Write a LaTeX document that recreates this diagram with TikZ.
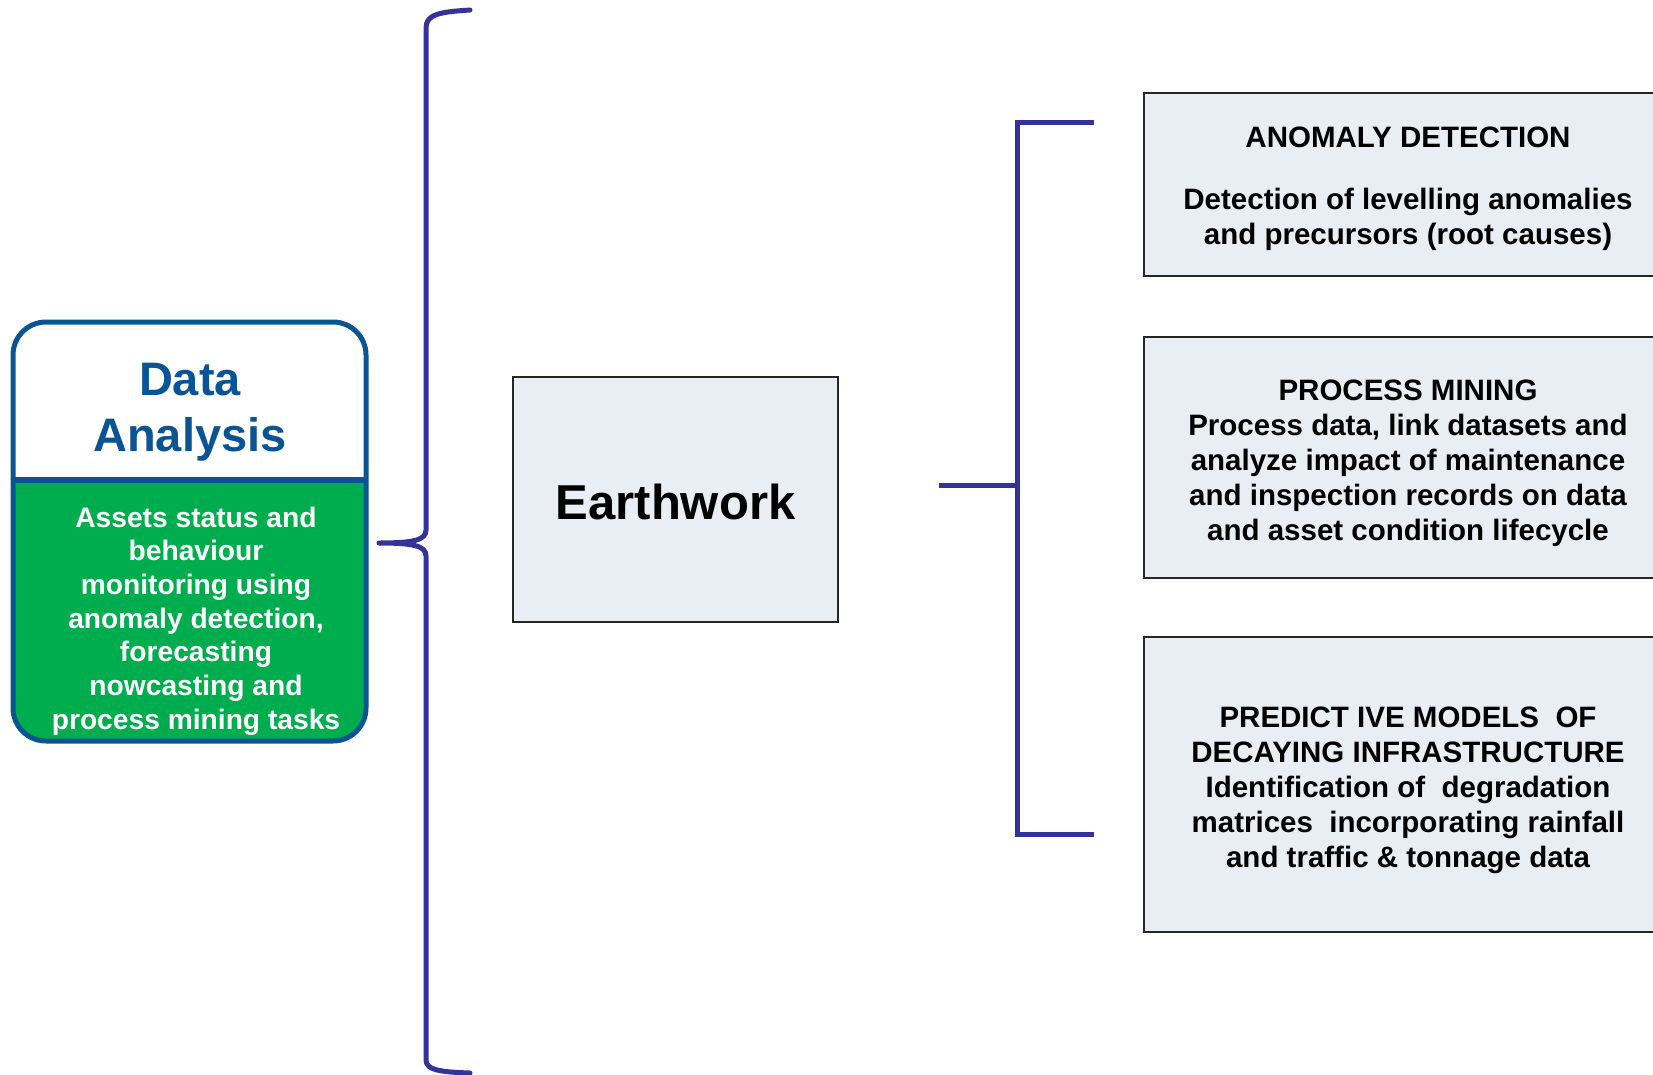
\documentclass[tikz,border=0pt]{standalone}
\usepackage{fontspec}
\setmainfont{Liberation Sans}
\definecolor{braceblue}{RGB}{51,51,153}
\definecolor{dablue}{RGB}{10,84,150}
\definecolor{dagreen}{RGB}{0,173,78}
\definecolor{boxfill}{RGB}{233,237,244}
\begin{document}
\begin{tikzpicture}[x=1pt,y=-1pt,
  brace/.style={draw=braceblue,line width=5pt,line cap=round,line join=round},
  greybox/.style={draw=black!85,line width=2pt,fill=boxfill,rectangle,inner sep=0pt},
  bodytext/.style={font=\fontsize{29.5}{35}\selectfont\bfseries,align=center,text=black}]
\useasboundingbox (0,0) rectangle (1653,1075);
\clip (0,0) rectangle (1653,1075);
\fill[white] (0,0) rectangle (1653,1075);

% left rounded box
\begin{scope}
\clip[rounded corners=33pt] (13,322) rectangle (366,741);
\fill[white] (13,322) rectangle (366,480);
\fill[dagreen] (13,480) rectangle (366,741);
\end{scope}
\draw[dablue,line width=5pt,rounded corners=33pt] (13,322) rectangle (366,741);
\draw[dablue,line width=6pt] (13,480) -- (366,480);
\node[font=\fontsize{47}{56}\selectfont\bfseries,text=dablue,align=center] (da) at (190,412) {Data\\Analysis};
\node[font=\fontsize{28.2}{33.7}\selectfont\bfseries,text=white,align=center] (dadesc) at (196,621)
  {Assets status and\\behaviour\\monitoring using\\anomaly detection,\\forecasting\\nowcasting and\\process mining tasks};

% big brace
\coordinate (btop) at (470,10);
\coordinate (btip) at (379,543);
\coordinate (bbot) at (470,1073);
\draw[brace] (btop) .. controls (440,12) and (426,14) .. (426,28) -- (426,530)
  .. controls (426,540) and (414,543) .. (btip)
  .. controls (414,543) and (426,546) .. (426,556) -- (426,1060)
  .. controls (426,1070) and (440,1072) .. (bbot);

% Earthwork
\node[greybox,minimum width=325pt,minimum height=245pt] (ew) at (675.5,499.5) {};
\node[font=\fontsize{49}{58}\selectfont\bfseries] (ewt) at (675.5,502) {Earthwork};

% right bracket
\coordinate (rs) at (939,485);
\coordinate (rj) at (1017,485);
\coordinate (rt) at (1094,123);
\coordinate (rb) at (1094,834);
\draw[brace,line cap=butt,line join=miter] (rs) -- (rj);
\draw[brace,line cap=butt,line join=miter] (rt) -- (1017,123) -- (1017,834) -- (rb);

% right boxes
\node[greybox,minimum width=528pt,minimum height=183pt] (b1) at (1408,184.5) {};
\node[bodytext] (t1) at (1408,189) {ANOMALY DETECTION\\[27pt]Detection of levelling anomalies\\and precursors (root causes)};

\node[greybox,minimum width=528pt,minimum height=241pt] (b2) at (1408,457.5) {};
\node[bodytext] (t2) at (1408,463) {PROCESS MINING\\Process data, link datasets and\\analyze impact of maintenance\\and inspection records on data\\and asset condition lifecycle};

\node[greybox,minimum width=528pt,minimum height=295pt] (b3) at (1408,784.5) {};
\node[bodytext] (t3) at (1408,790) {PREDICT IVE MODELS\ \ OF\\DECAYING INFRASTRUCTURE\\Identification of\ \ degradation\\matrices\ \ incorporating rainfall\\and traffic \& tonnage data};
\end{tikzpicture}
\end{document}
